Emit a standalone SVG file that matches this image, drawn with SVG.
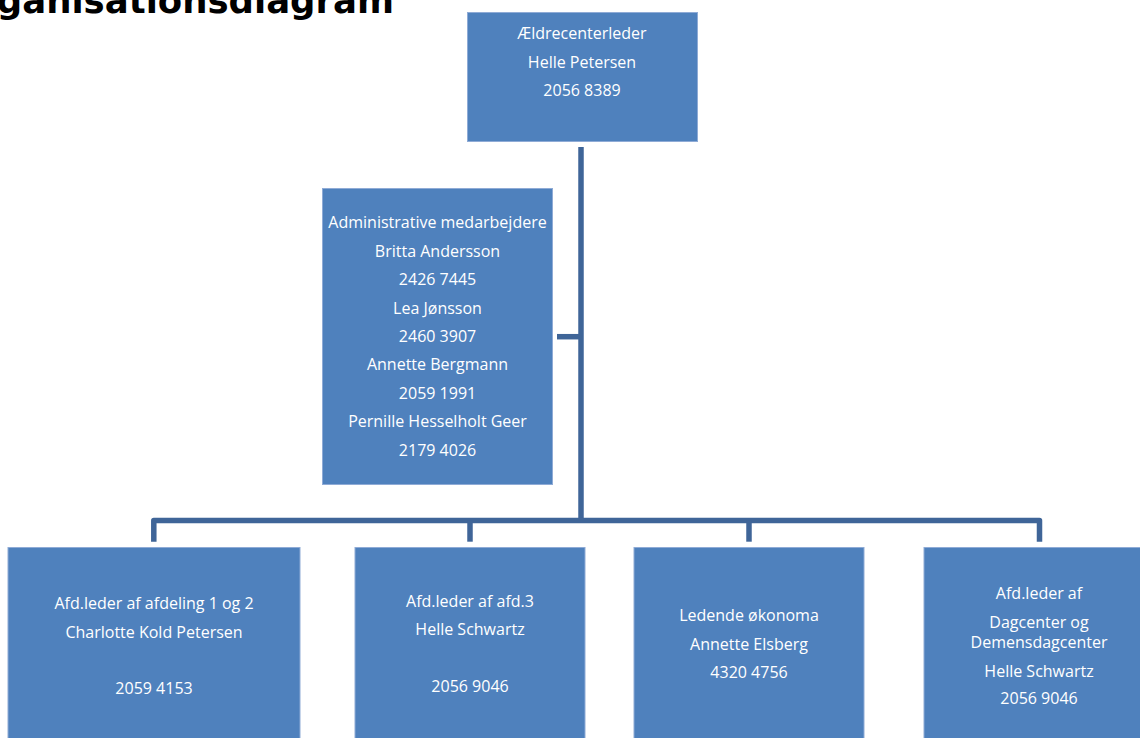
<svg xmlns="http://www.w3.org/2000/svg" width="1140" height="738" viewBox="0 0 1140 738">
<style>
.box{fill:#4f81bd;stroke:#8fabd6;stroke-width:1}
.t{font-family:"Open Sans","Liberation Sans",sans-serif;font-size:16px;fill:#ffffff;text-anchor:middle}
.c{fill:none;stroke:#3f6598;stroke-width:5.5;stroke-linejoin:round}
.title{font-family:"DejaVu Sans",sans-serif;font-weight:bold;font-size:35.5px;fill:#000000;text-anchor:end}
</style>
<rect width="1140" height="738" fill="#ffffff"/>
<text class="title" x="394" y="13">Organisationsdiagram</text>
<g id="connectors">
<path class="c" d="M581,147 V520.5"/>
<path class="c" d="M557,336.7 H581"/>
<path class="c" d="M153.8,541.7 V520.5 H1039.5 V541.7"/>
<path class="c" d="M470,520.5 V541.7"/>
<path class="c" d="M749,520.5 V541.7"/>
</g>
<g id="n-top">
<rect class="box" x="467.5" y="12.5" width="230" height="129"/>
<text class="t" x="582" y="39">Ældrecenterleder</text>
<text class="t" x="582" y="67.5">Helle Petersen</text>
<text class="t" x="582" y="96">2056 8389</text>
</g>
<g id="n-admin">
<rect class="box" x="322.5" y="188.5" width="230" height="296"/>
<text class="t" x="437.5" y="228.3">Administrative medarbejdere</text>
<text class="t" x="437.5" y="256.7">Britta Andersson</text>
<text class="t" x="437.5" y="285.1">2426 7445</text>
<text class="t" x="437.5" y="313.5">Lea Jønsson</text>
<text class="t" x="437.5" y="341.9">2460 3907</text>
<text class="t" x="437.5" y="370.3">Annette Bergmann</text>
<text class="t" x="437.5" y="398.7">2059 1991</text>
<text class="t" x="437.5" y="427.1">Pernille Hesselholt Geer</text>
<text class="t" x="437.5" y="455.5">2179 4026</text>
</g>
<g id="n-afd12">
<rect class="box" x="8" y="547.5" width="292" height="200"/>
<text class="t" x="154" y="609">Afd.leder af afdeling 1 og 2</text>
<text class="t" x="154" y="637.7">Charlotte Kold Petersen</text>
<text class="t" x="154" y="694">2059 4153</text>
</g>
<g id="n-afd3">
<rect class="box" x="355" y="547.5" width="230" height="200"/>
<text class="t" x="470" y="606.7">Afd.leder af afd.3</text>
<text class="t" x="470" y="635.3">Helle Schwartz</text>
<text class="t" x="470" y="692">2056 9046</text>
</g>
<g id="n-okonomi">
<rect class="box" x="634" y="547.5" width="230" height="200"/>
<text class="t" x="749" y="620.7">Ledende økonoma</text>
<text class="t" x="749" y="649.7">Annette Elsberg</text>
<text class="t" x="749" y="677.7">4320 4756</text>
</g>
<g id="n-dagcenter">
<rect class="box" x="924" y="547.5" width="230" height="200"/>
<text class="t" x="1039" y="598.7">Afd.leder af</text>
<text class="t" x="1039" y="627.7">Dagcenter og</text>
<text class="t" x="1039" y="647.7">Demensdagcenter</text>
<text class="t" x="1039" y="676.7">Helle Schwartz</text>
<text class="t" x="1039" y="704.3">2056 9046</text>
</g>
</svg>
